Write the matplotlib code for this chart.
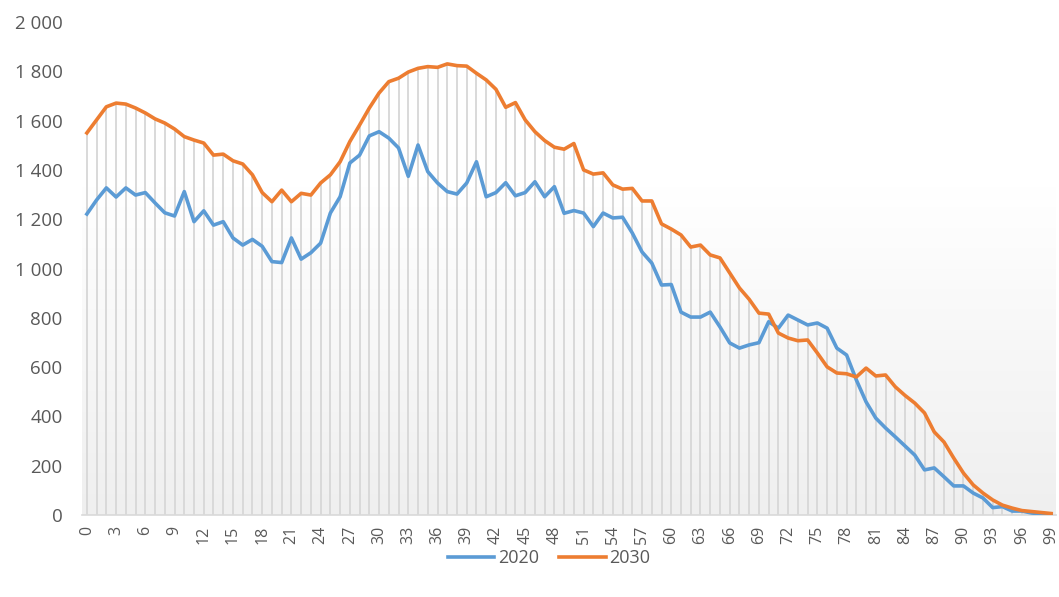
import numpy as np
import matplotlib
matplotlib.use("Agg")
import matplotlib.pyplot as plt
from matplotlib.ticker import FuncFormatter
from matplotlib.colors import LinearSegmentedColormap

ages = np.arange(0, 100)
pop_2020 = [
    1221, 1278, 1327, 1290, 1327, 1298, 1308, 1266, 1226, 1213,
    1312, 1190, 1234, 1176, 1190, 1124, 1095, 1118, 1090, 1028,
    1024, 1124, 1038, 1064, 1103, 1225, 1291, 1428, 1460, 1538,
    1555, 1529, 1489, 1374, 1501, 1393, 1347, 1312, 1302, 1347,
    1433, 1291, 1308, 1348, 1295, 1308, 1352, 1291, 1332, 1224,
    1235, 1225, 1170, 1225, 1205, 1208, 1144, 1067, 1022, 933,
    935, 823, 803, 803, 823, 763, 698, 677, 690, 699,
    784, 758, 811, 791, 771, 779, 758, 677, 649, 548,
    459, 393, 353, 317, 280, 243, 183, 191, 155, 118,
    118, 89, 69, 30, 34, 16, 16, 8, 4, 0,
]
pop_2030 = [
    1550, 1603, 1656, 1671, 1667, 1651, 1631, 1607, 1590, 1566,
    1535, 1521, 1509, 1460, 1464, 1437, 1424, 1380, 1308, 1271,
    1318, 1271, 1305, 1298, 1347, 1380, 1433, 1515, 1582, 1651,
    1712, 1758, 1772, 1797, 1812, 1819, 1816, 1830, 1823, 1821,
    1792, 1765, 1727, 1654, 1673, 1603, 1555, 1519, 1492, 1484,
    1507, 1400, 1383, 1388, 1339, 1322, 1325, 1274, 1274, 1181,
    1160, 1136, 1087, 1095, 1055, 1043, 982, 921, 875, 819,
    815, 738, 718, 707, 710, 657, 601, 576, 573, 560,
    596, 564, 568, 520, 485, 454, 414, 337, 296, 231,
    170, 122, 89, 61, 40, 28, 18, 14, 10, 6,
]

plt.rcParams['font.family'] = ['Open Sans', 'DejaVu Sans']

fig = plt.figure(figsize=(10.59, 5.97), dpi=100)
ax = fig.add_axes([82 / 1059, 1 - 515 / 597, (1056 - 82) / 1059, (515 - 22) / 597])

# светлый градиент фона
cmap = LinearSegmentedColormap.from_list('bg', ['#efefef', '#f7f7f7', '#ffffff', '#ffffff'])
grad = np.linspace(0, 1, 256).reshape(-1, 1)
ax.imshow(grad, cmap=cmap, aspect='auto', origin='lower',
          extent=[-0.5, 99.5, 0, 2000], zorder=0)

top = np.maximum(pop_2020, pop_2030)
ax.vlines(ages, 0, top, color='#d9d9d9', lw=1.4, zorder=1)

ax.plot(ages, pop_2020, color='#5b9bd5', lw=2.6, label='2020', zorder=3,
        solid_joinstyle='round')
ax.plot(ages, pop_2030, color='#ed7d31', lw=2.6, label='2030', zorder=3,
        solid_joinstyle='round')

ax.set_xlim(-0.5, 99.5)
ax.set_ylim(0, 2000)
ax.set_yticks(np.arange(0, 2001, 200))
ax.yaxis.set_major_formatter(FuncFormatter(lambda v, p: f"{int(v):,}".replace(',', ' ')))
ax.set_xticks(ages[::3])
ax.set_xticklabels([str(a) for a in ages[::3]], rotation=90)

for s in ['top', 'right', 'left']:
    ax.spines[s].set_visible(False)
ax.spines['bottom'].set_color('#d9d9d9')
ax.spines['bottom'].set_linewidth(1.2)
ax.tick_params(axis='y', length=0, pad=14, labelsize=13.5, labelcolor='#595959')
ax.tick_params(axis='x', length=0, pad=8, labelsize=11.5, labelcolor='#595959')

fig.legend(loc='center', bbox_to_anchor=(549 / 1059, 1 - 558 / 597), ncol=2,
           frameon=False, fontsize=13, labelcolor='#595959',
           handlelength=2.6, columnspacing=1.1, handletextpad=0.2)

fig.savefig('out.png', dpi=100)
